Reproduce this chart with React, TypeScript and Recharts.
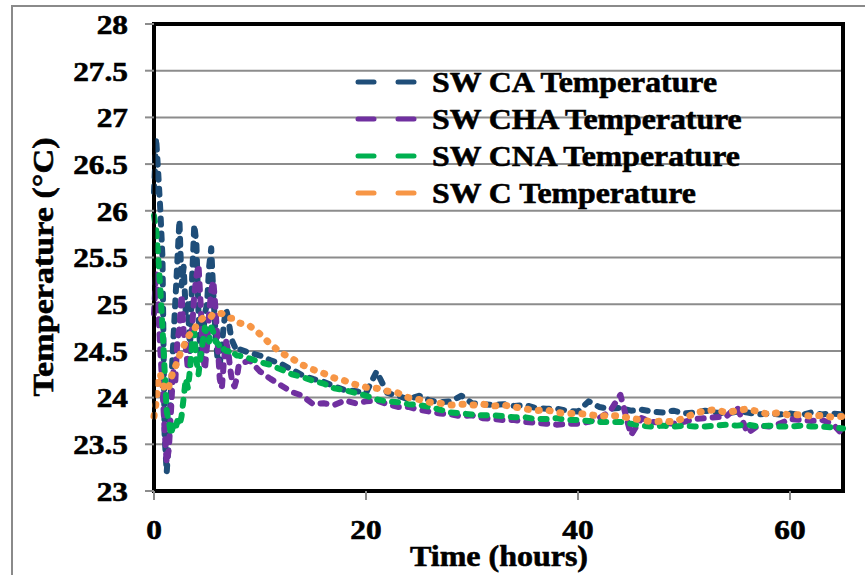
import React from 'react';
import { LineChart, Line, XAxis, YAxis, CartesianGrid, ReferenceArea, Legend } from 'recharts';

const timeHours = [
  0, 0.2, 0.4, 0.6, 0.8, 1, 1.2, 1.4, 1.6, 1.8, 2, 2.2, 2.4, 2.6, 2.8, 3, 3.2, 3.4, 3.6, 3.8,
  4, 4.2, 4.4, 4.6, 4.8, 5, 5.2, 5.4, 5.6, 5.8, 6, 6.2, 6.4, 6.6, 6.8, 7, 7.2, 7.4, 7.6, 7.8, 8,
  9, 10, 11, 12, 13, 14, 15, 16, 17, 18, 19, 20, 21, 22, 23, 24, 25, 26, 27, 28, 29, 30, 31, 32,
  33, 34, 35, 36, 37, 38, 39, 40, 41, 42, 43, 44, 45, 46, 47, 48, 49, 50, 51, 52, 53, 54, 55, 56,
  57, 58, 59, 60, 61, 62, 63, 64, 65,
];

const caTemp = [
  26.2, 26.78, 26.4, 26.0, 25.5, 23.6, 23.2, 23.55, 24.1, 24.55, 25.0, 25.45, 25.9, 25.2, 25.4, 24.9, 25.0, 24.5, 25.3, 25.85,
  25.65, 24.9, 24.4, 24.6, 24.9, 25.0, 25.4, 25.6, 25.1, 24.7, 24.4, 24.35, 24.55, 24.8, 24.95, 24.85, 24.7, 24.6, 24.55, 24.5, 24.52,
  24.48, 24.45, 24.4, 24.36, 24.3, 24.24, 24.2, 24.17, 24.12, 24.08, 24.07, 24.05, 24.28, 24.05, 24.02, 23.98, 24.02, 23.97, 23.95, 23.96,
  24.02, 23.94, 23.93, 23.92, 23.93, 23.91, 23.92, 23.89, 23.88, 23.88, 23.86, 23.85, 23.96, 23.9, 23.88, 23.89, 23.86, 23.87, 23.85, 23.84,
  23.86, 23.83, 23.84, 23.86, 23.84, 23.83, 23.85, 23.84, 23.82, 23.83, 23.82, 23.83, 23.81, 23.84, 23.82, 23.83, 23.82,
];

const chaTemp = [
  24.9, 25.35, 24.95, 24.5, 24.1, 23.65, 23.3, 23.45, 23.85, 24.3, 24.15, 24.6, 24.75, 25.1, 24.7, 24.55, 24.3, 24.5, 24.75, 25.1,
  25.3, 25.42, 25.0, 24.5, 24.3, 24.55, 24.9, 25.15, 25.25, 24.95, 24.6, 24.2, 24.1, 24.4, 24.6, 24.5, 24.3, 24.15, 24.12, 24.2, 24.35,
  24.4, 24.28, 24.2, 24.13, 24.06, 24.02, 23.93, 23.94, 23.92, 23.97, 23.94, 23.96, 23.97, 23.93, 23.9, 23.9, 23.87, 23.85, 23.83, 23.82,
  23.8, 23.81, 23.78, 23.77, 23.76, 23.76, 23.74, 23.73, 23.72, 23.71, 23.72, 23.72, 23.74, 23.78, 23.85, 24.03, 23.6, 23.78, 23.74, 23.73,
  23.72, 23.74, 23.77, 23.78, 23.79, 23.8, 23.9, 23.62, 23.7, 23.69, 23.72, 23.77, 23.76, 23.75, 23.76, 23.72, 23.6,
];

const cnaTemp = [
  25.95, 25.8, 25.5, 25.15, 24.75, 24.3, 23.85, 23.75, 23.6, 23.7, 23.65, 23.75, 23.7, 23.8, 24.0, 24.2, 24.1, 24.3, 24.6, 24.7,
  24.4, 24.25, 24.45, 24.6, 24.75, 24.65, 24.6, 24.75, 24.7, 24.6, 24.58, 24.55, 24.5, 24.52, 24.5, 24.5, 24.48, 24.5, 24.47, 24.45, 24.45,
  24.42, 24.38, 24.35, 24.3, 24.25, 24.22, 24.18, 24.15, 24.1, 24.08, 24.05, 24.02, 23.98, 23.96, 23.95, 23.93, 23.92, 23.9, 23.87, 23.84,
  23.83, 23.82, 23.81, 23.81, 23.8, 23.79, 23.79, 23.77, 23.77, 23.78, 23.76, 23.76, 23.75, 23.74, 23.74, 23.74, 23.72, 23.7, 23.69, 23.7,
  23.69, 23.7, 23.69, 23.69, 23.7, 23.71, 23.7, 23.71, 23.69, 23.7, 23.69, 23.69, 23.7, 23.69, 23.69, 23.68, 23.67,
];

const cTemp = [
  23.8, 23.95, 24.2, 24.25, 24.15, 24.1, 24.07, 24.12, 24.2, 24.28, 24.33, 24.38, 24.45, 24.5, 24.55, 24.6, 24.65, 24.68, 24.68, 24.72,
  24.78, 24.81, 24.83, 24.85, 24.87, 24.88, 24.88, 24.87, 24.9, 24.9, 24.9, 24.9, 24.9, 24.88, 24.87, 24.86, 24.85, 24.85, 24.83, 24.82, 24.8,
  24.77, 24.68, 24.57, 24.48, 24.42, 24.35, 24.3, 24.26, 24.21, 24.18, 24.14, 24.11, 24.1, 24.07, 24.05, 24.0, 23.98, 23.95, 23.94, 23.92,
  23.93, 23.92, 23.93, 23.91, 23.92, 23.9, 23.88, 23.86, 23.87, 23.84, 23.83, 23.83, 23.82, 23.8, 23.81, 23.8, 23.78, 23.76, 23.74, 23.75,
  23.74, 23.78, 23.83, 23.86, 23.87, 23.84, 23.86, 23.88, 23.85, 23.82, 23.84, 23.81, 23.82, 23.8, 23.81, 23.79, 23.8,
];

const seriesKeys = ['ca', 'cha', 'cna', 'c'];
const seriesNames = ['SW CA Temperature', 'SW CHA Temperature', 'SW CNA Temperature', 'SW C Temperature'];
const seriesColors = ['#1F4E79', '#7030A0', '#00B050', '#F79646'];
const seriesDash = ['6 9', '6 9', '6 9', '1 10'];

const yTicks = [23, 23.5, 24, 24.5, 25, 25.5, 26, 26.5, 27, 27.5, 28];
const xTicks = [0, 20, 40, 60];
const xTitle = 'Time (hours)';
const yTitle = 'Temperature (°C)';

const rows = timeHours.map((h, i) => ({
  h,
  ca: caTemp[i],
  cha: chaTemp[i],
  cna: cnaTemp[i],
  c: cTemp[i],
}));

const FONT = 'Liberation Serif, Tinos, Times New Roman, Times, serif';
const textStyle: React.CSSProperties = { fontFamily: FONT, fontWeight: 700 };

const YTick = (props: any) => {
  const { x, y, payload } = props;
  return (
    <g transform={`translate(${x},${y})`}>
      <text
        x={0}
        y={0}
        dy="0.35em"
        textAnchor="end"
        transform="scale(1.12,1)"
        style={textStyle}
        fontSize={28}
        fill="#000"
        stroke="#000"
        strokeWidth={0.6}
      >
        {String(payload.value)}
      </text>
    </g>
  );
};

const XTick = (props: any) => {
  const { x, y, payload } = props;
  return (
    <g transform={`translate(${x},${y})`}>
      <text
        x={0}
        y={0}
        dy={37}
        textAnchor="middle"
        transform="scale(1.12,1)"
        style={textStyle}
        fontSize={28}
        fill="#000"
        stroke="#000"
        strokeWidth={0.6}
      >
        {String(payload.value)}
      </text>
    </g>
  );
};

const renderLegend = (props: any) => {
  const payload = [...(props.payload || [])].sort(
    (a: any, b: any) => seriesNames.indexOf(a.value) - seriesNames.indexOf(b.value)
  );
  return (
    <svg width={420} height={150} style={{ display: 'block', overflow: 'visible' }}>
      {payload.map((entry: any, i: number) => {
        const yc = 22 + i * 37;
        return (
          <g key={entry.value}>
            <line x1={8} x2={24} y1={yc} y2={yc} stroke={entry.color} strokeWidth={5} strokeLinecap="round" />
            <line x1={48} x2={64} y1={yc} y2={yc} stroke={entry.color} strokeWidth={5} strokeLinecap="round" />
            <text
              transform={`translate(82,${yc + 10}) scale(1.06,1)`}
              style={textStyle}
              fontSize={30}
              fill="#000"
              stroke="#000"
              strokeWidth={0.6}
            >
              {entry.value}
            </text>
          </g>
        );
      })}
    </svg>
  );
};

export default function App() {
  return (
    <div style={{ position: 'absolute', left: 0, top: 0, width: 865, height: 575, background: '#fff', overflow: 'hidden' }}>
      <div
        style={{
          position: 'absolute',
          left: 11,
          top: 5,
          width: 880,
          height: 600,
          border: '2px solid #8a8a8a',
          boxSizing: 'border-box',
        }}
      />
      <div style={{ position: 'absolute', left: 0, top: 0 }}>
        <LineChart
          width={865}
          height={575}
          data={rows}
          margin={{ top: 24, right: 22, bottom: 24, left: 54 }}
        >
          <CartesianGrid vertical={false} stroke="#8c8c8c" strokeWidth={2} />
          <XAxis
            dataKey="h"
            type="number"
            domain={[0, 65]}
            ticks={xTicks}
            interval={0}
            height={60}
            tickSize={9}
            tickMargin={2}
            axisLine={{ stroke: '#000', strokeWidth: 3 }}
            tickLine={{ stroke: '#8c8c8c', strokeWidth: 2 }}
            tick={<XTick />}
          />
          <YAxis
            type="number"
            domain={[23, 28]}
            ticks={yTicks}
            interval={0}
            width={100}
            tickSize={9}
            tickMargin={17}
            axisLine={{ stroke: '#000', strokeWidth: 3 }}
            tickLine={{ stroke: '#8c8c8c', strokeWidth: 2 }}
            tick={<YTick />}
          />
          <ReferenceArea x1={0} x2={65} y1={23} y2={28} fill="none" stroke="#000" strokeWidth={4} ifOverflow="visible" />
          {seriesKeys.map((k, i) => (
            <Line
              key={k}
              type="linear"
              dataKey={k}
              name={seriesNames[i]}
              stroke={seriesColors[i]}
              strokeWidth={i === 3 ? 7 : 6}
              strokeDasharray={seriesDash[i]}
              strokeLinecap="round"
              strokeLinejoin="round"
              dot={false}
              activeDot={false}
              isAnimationActive={false}
            />
          ))}
          <Legend
            layout="vertical"
            align="center"
            verticalAlign="middle"
            itemSorter={null as any}
            wrapperStyle={{ left: 350, top: 60, width: 420, height: 150 }}
            content={renderLegend}
          />
        </LineChart>
      </div>
      <svg
        width={865}
        height={575}
        style={{ position: 'absolute', left: 0, top: 0, pointerEvents: 'none' }}
      >
        <text
          x={499}
          y={566}
          textAnchor="middle"
          style={textStyle}
          fontSize={30}
          textLength={178}
          lengthAdjust="spacingAndGlyphs"
          fill="#000"
          stroke="#000"
          strokeWidth={0.6}
        >
          {xTitle}
        </text>
        <text
          transform="translate(53,267) rotate(-90)"
          textAnchor="middle"
          style={textStyle}
          fontSize={30}
          textLength={259}
          lengthAdjust="spacingAndGlyphs"
          fill="#000"
          stroke="#000"
          strokeWidth={0.6}
        >
          {yTitle}
        </text>
      </svg>
    </div>
  );
}
